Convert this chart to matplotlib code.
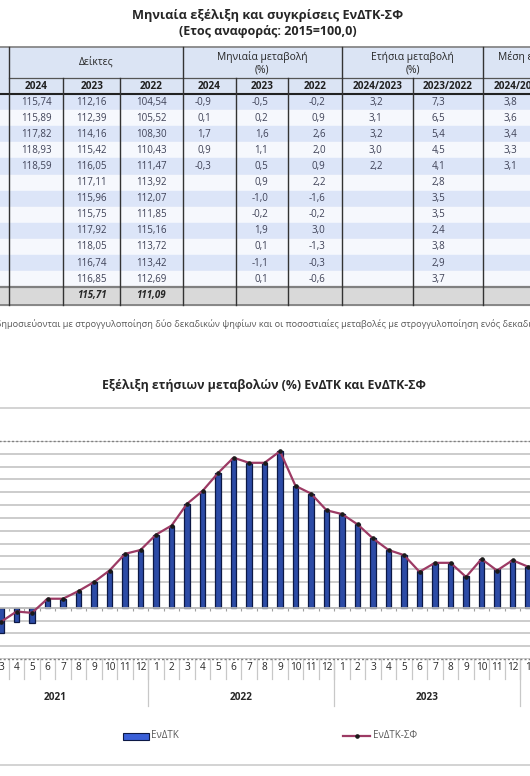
import matplotlib
matplotlib.use("Agg")
import matplotlib.pyplot as plt
import numpy as np
from matplotlib.patches import Rectangle
from matplotlib.lines import Line2D
from matplotlib.transforms import blended_transform_factory

plt.rcParams['font.family'] = ['Open Sans', 'DejaVu Sans']

# ---------------- data: table ----------------
table_title = "Μηνιαία εξέλιξη και συγκρίσεις ΕνΔΤΚ-ΣΦ"
table_subtitle = "(Ετος αναφοράς: 2015=100,0)"
group_headers = ["Δείκτες", "Μηνιαία μεταβολή\n(%)", "Ετήσια μεταβολή\n(%)", "Μέση ετήσια μεταβολή\n(%)"]
col_headers = ["2024", "2023", "2022", "2024", "2023", "2022", "2024/2023", "2023/2022", "2024/2023"]

index_2024 = [115.74, 115.89, 117.82, 118.93, 118.59]
index_2023 = [112.16, 112.39, 114.16, 115.42, 116.05, 117.11, 115.96, 115.75, 117.92, 118.05, 116.74, 116.85]
index_2022 = [104.54, 105.52, 108.30, 110.43, 111.47, 113.92, 112.07, 111.85, 115.16, 113.72, 113.42, 112.69]
monthly_2024 = [-0.9, 0.1, 1.7, 0.9, -0.3]
monthly_2023 = [-0.5, 0.2, 1.6, 1.1, 0.5, 0.9, -1.0, -0.2, 1.9, 0.1, -1.1, 0.1]
monthly_2022 = [-0.2, 0.9, 2.6, 2.0, 0.9, 2.2, -1.6, -0.2, 3.0, -1.3, -0.3, -0.6]
annual_2024_2023 = [3.2, 3.1, 3.2, 3.0, 2.2]
annual_2023_2022 = [7.3, 6.5, 5.4, 4.5, 4.1, 2.8, 3.5, 3.5, 2.4, 3.8, 2.9, 3.7]
mean_annual_2024_2023 = [3.8, 3.6, 3.4, 3.3, 3.1]
average_index_2023 = 115.71
average_index_2022 = 111.09

footnote = ("Οι δείκτες δημοσιεύονται με στρογγυλοποίηση δύο δεκαδικών ψηφίων και οι "
            "ποσοστιαίες μεταβολές με στρογγυλοποίηση ενός δεκαδικού ψηφίου.")
footnote_hidden_prefix = "Οι δείκτες δ"

# ---------------- data: chart ----------------
chart_title = "Εξέλιξη ετήσιων μεταβολών (%) ΕνΔΤΚ και ΕνΔΤΚ-ΣΦ"
years = [2021, 2022, 2023, 2024]
months_in_year = [12, 12, 12, 5]
first_data_month = 2  # data shown from March 2021 (index 2)
hicp = [-2.0, -1.1, -1.2, 0.7, 0.7, 1.3, 2.0, 2.9, 4.2, 4.5,
        5.7, 6.4, 8.1, 9.1, 10.5, 11.7, 11.3, 11.3, 12.2, 9.5, 8.9, 7.6,
        7.3, 6.5, 5.4, 4.5, 4.1, 2.9, 3.5, 3.5, 2.5, 3.8, 3.0, 3.7,
        3.2]
hicp_ct = [-1.1, -0.3, -0.4, 0.7, 0.7, 1.3, 2.0, 2.9, 4.2, 4.5,
           5.7, 6.4, 8.1, 9.1, 10.5, 11.7, 11.3, 11.3, 12.2, 9.5, 8.9, 7.6,
           7.3, 6.5, 5.4, 4.5, 4.1, 2.8, 3.5, 3.5, 2.4, 3.8, 2.9, 3.7,
           3.2, 3.1, 3.2, 3.0, 2.2]
series_names = ["ΕνΔΤΚ", "ΕνΔΤΚ-ΣΦ"]
y_min, y_max = -4, 13

# ---------------- figure ----------------
W, H = 530, 776
fig = plt.figure(figsize=(W / 100, H / 100), dpi=100)
fig.patch.set_facecolor('white')


def fa(x0, y0, w, h):
    return [x0 / W, 1 - (y0 + h) / H, w / W, h / H]


ov = fig.add_axes([0, 0, 1, 1], zorder=0)
ov.set_xlim(0, W)
ov.set_ylim(H, 0)
ov.axis('off')

fmt = lambda v, d: f"{v:.{d}f}".replace('.', ',')

# ---- table layout ----
col_edges = [9.3, 63.3, 120, 182.7, 236, 288.3, 341.7, 412.7, 483.3, 554]
group_edges = [9.3, 182.7, 341.7, 483.3, 625]
t_top, h1_bot, h2_bot = 47, 78, 94
row_h = 16.1
n_rows = 12
data_bot = h2_bot + n_rows * row_h
avg_bot = data_bot + 17.5
XL, XR = -60, 620

ov.text(W / 2 + 3, 15, table_title, ha='center', va='center', fontsize=9.2,
        fontweight='bold', color='#262626')
ov.text(W / 2 + 3, 31, table_subtitle, ha='center', va='center', fontsize=9.0,
        fontweight='bold', color='#262626')

ov.add_patch(Rectangle((XL, t_top), XR - XL, h2_bot - t_top, color='#dbe4f4', zorder=1))
for r in range(n_rows):
    c = '#dce5f8' if r % 2 == 0 else '#f6f8fd'
    ov.add_patch(Rectangle((XL, h2_bot + r * row_h), XR - XL, row_h, color=c, zorder=1))
ov.add_patch(Rectangle((XL, data_bot), XR - XL, avg_bot - data_bot, color='#d9d9d9', zorder=1))

# lines
ov.plot([XL, XR], [t_top, t_top], color='#7f7f7f', lw=1.2, zorder=3)
ov.plot([group_edges[0], XR], [h1_bot, h1_bot], color='#555555', lw=0.9, zorder=3)
ov.plot([XL, XR], [h2_bot, h2_bot], color='#222222', lw=1.5, zorder=3)
ov.plot([XL, XR], [data_bot, data_bot], color='#808080', lw=1.6, zorder=3)
ov.plot([XL, XR], [avg_bot, avg_bot], color='#808080', lw=1.3, zorder=3)
for x in group_edges:
    ov.plot([x, x], [t_top, avg_bot], color='#333333', lw=1.0, zorder=3)
for x in col_edges:
    if x not in group_edges:
        ov.plot([x, x], [h1_bot, avg_bot], color='#333333', lw=1.0, zorder=3)

# group headers
for i, g in enumerate(group_headers):
    cx = (group_edges[i] + group_edges[i + 1]) / 2
    if '\n' in g:
        l1, l2 = g.split('\n')
        ov.text(cx, 57, l1, ha='center', va='center', fontsize=7.4, color='#262626', zorder=4)
        ov.text(cx, 70, l2, ha='center', va='center', fontsize=7.4, color='#262626', zorder=4)
    else:
        ov.text(cx, 62.5, g, ha='center', va='center', fontsize=7.4, color='#262626', zorder=4)

for i, h in enumerate(col_headers):
    cx = (col_edges[i] + col_edges[i + 1]) / 2
    ov.text(cx, 86.5, h, ha='center', va='center', fontsize=7.2, fontweight='bold',
            color='#1f1f1f', zorder=4)

# data cells
columns = [
    (index_2024, 2, 'c'), (index_2023, 2, 'c'), (index_2022, 2, 'c'),
    (monthly_2024, 1, 'r'), (monthly_2023, 1, 'r'), (monthly_2022, 1, 'r'),
    (annual_2024_2023, 1, 'r'), (annual_2023_2022, 1, 'r'), (mean_annual_2024_2023, 1, 'r'),
]
right_pad = [0, 0, 0, 25, 20, 16, 30, 38, 37]
txt_col = '#3f4257'
for ci, (vals, dec, al) in enumerate(columns):
    x0, x1 = col_edges[ci], col_edges[ci + 1]
    for r, v in enumerate(vals):
        y = h2_bot + (r + 0.5) * row_h
        if al == 'c':
            ov.text((x0 + x1) / 2, y, fmt(v, dec), ha='center', va='center',
                    fontsize=7.0, color=txt_col, zorder=4)
        else:
            ov.text(x1 - right_pad[ci], y, fmt(v, dec), ha='right', va='center',
                    fontsize=7.0, color=txt_col, zorder=4)

ya = (data_bot + avg_bot) / 2
ov.text((col_edges[1] + col_edges[2]) / 2, ya, fmt(average_index_2023, 2), ha='center',
        va='center', fontsize=7.0, fontweight='bold', fontstyle='italic', color='#262626', zorder=4)
ov.text((col_edges[2] + col_edges[3]) / 2, ya, fmt(average_index_2022, 2), ha='center',
        va='center', fontsize=7.0, fontweight='bold', fontstyle='italic', color='#262626', zorder=4)

# footnote (left part cut off like the reference)
fn_size = 6.6
tmp = ov.text(0, 324, footnote_hidden_prefix, fontsize=fn_size)
fig.canvas.draw()
pw = tmp.get_window_extent().width
tmp.remove()
ov.text(-pw + 1, 324, footnote, ha='left', va='center', fontsize=fn_size, color='#5a5a5a')

# ---------------- chart ----------------
ov.text(264, 385, chart_title, ha='center', va='center', fontsize=8.8,
        fontweight='bold', color='#262626')
ov.plot([XL, XR], [408, 408], color='#d0d0d0', lw=1.3)
ov.plot([XL, XR], [765, 765], color='#d0d0d0', lw=1.3)

n_cat = sum(months_in_year)
step = 15.5
x_first = 1.0  # pixel x of the March 2021 category centre
left_px = x_first - (first_data_month + 0.5) * step
ax = fig.add_axes(fa(left_px, 441, n_cat * step, 218), zorder=1)
ax.patch.set_alpha(0)
ax.set_xlim(-0.5, n_cat - 0.5)
ax.set_ylim(y_min, y_max)

for s in ['top', 'left', 'right']:
    ax.spines[s].set_visible(False)
ax.spines['bottom'].set_position(('data', 0))
ax.spines['bottom'].set_color('#bdbdbd')
ax.spines['bottom'].set_linewidth(1.2)
ax.set_xticks(np.arange(-0.5, n_cat, 1))
ax.tick_params(axis='x', length=2.5, width=0.8, color='#a0a0a0', labelbottom=False)
ax.set_yticks(np.arange(y_min, y_max + 1, 1))
ax.tick_params(axis='y', length=0, labelsize=7, labelcolor='#404040')
ax.yaxis.grid(True, color='#c4c4c4', lw=1.2)
ax.set_axisbelow(True)
ax.axhline(y_max, color='#808080', lw=1.0, ls=(0, (1.5, 1.5)), clip_on=False)
ax.axhline(y_min, color='#808080', lw=1.0, ls=(0, (1.5, 1.5)), clip_on=False)

xb = np.arange(first_data_month, first_data_month + len(hicp))
ax.bar(xb, hicp, width=0.34, color='#2c4ba6', edgecolor='#0c1845', linewidth=0.9, zorder=2)
xl = np.arange(first_data_month, first_data_month + len(hicp_ct))
ax.plot(xl, hicp_ct, color='#9c3a64', lw=1.6, zorder=3, marker='o', markersize=2.3,
        markerfacecolor='#1a1a1a', markeredgecolor='#1a1a1a')

# multi-level category labels under the plot
trans = blended_transform_factory(ax.transData, ov.transData)
k = 0
for yi, yr in enumerate(years):
    n = months_in_year[yi]
    for m in range(1, n + 1):
        ov.text(k, 667, str(m), transform=trans, ha='center', va='center',
                fontsize=7.2, color='#262626')
        ov.plot([k + 0.5, k + 0.5], [659, 679], transform=trans, color='#c8c8c8', lw=0.9)
        k += 1
    ov.plot([k - n - 0.5] * 2, [659, 706], transform=trans, color='#c8c8c8', lw=0.9)
    ov.text(k - n / 2 - 0.5, 697, str(yr),
            transform=trans, ha='center', va='center', fontsize=7.2, fontweight='bold',
            color='#262626')

# legend
ov.add_patch(Rectangle((122.5, 732.5), 26, 7, facecolor='#3a5fd8', edgecolor='#0c1845', lw=0.8))
ov.text(151, 736, series_names[0], ha='left', va='center', fontsize=7, color='#595959')
ov.add_line(Line2D([343, 370], [736, 736], color='#9c3a64', lw=1.6))
ov.plot([356.5], [736], marker='o', markersize=2.3, color='#1a1a1a')
ov.text(373, 736, series_names[1], ha='left', va='center', fontsize=7, color='#595959')

fig.savefig('out.png', dpi=100)
